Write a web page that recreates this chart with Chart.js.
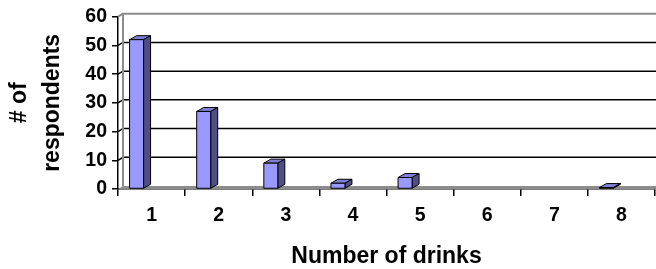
<!DOCTYPE html>
<html>
<head>
<meta charset="utf-8">
<script src="https://cdn.jsdelivr.net/npm/chart.js@4"></script>
<style>
  body { margin: 0; background: #fff; }
  canvas { display: block; }
</style>
</head>
<body>
<canvas id="drinks" width="656" height="269"></canvas>
<script>
// values
const categories = ['1', '2', '3', '4', '5', '6', '7', '8'];
const respondents = [52, 27, 9, 2, 4, 0, 0, 0.5];
const yMax = 60;
const yStep = 10;
const yTitle = ['# of', 'respondents'];
const xTitle = 'Number of drinks';

const FONT = "'Liberation Sans', Arial, sans-serif";
// fake 3d look, excel style
const SHIFT = -15;          // bars sit a bit left of category centre
const DEPTH = [7, -4];      // bar depth
const WALL = [5, -3];       // back wall offset

const bars3d = {
  id: 'bars3d',
  beforeDatasetsDraw(chart) {
    const {ctx, chartArea: a, scales: {y}} = chart;
    const y0 = y.getPixelForValue(0);
    const yTop = y.getPixelForValue(yMax);
    ctx.save();
    // floor
    ctx.fillStyle = '#8c8c8c';
    ctx.beginPath();
    ctx.moveTo(a.left, y0);
    ctx.lineTo(a.right, y0);
    ctx.lineTo(a.right + WALL[0], y0 + WALL[1]);
    ctx.lineTo(a.left + WALL[0], y0 + WALL[1]);
    ctx.closePath();
    ctx.fill();
    // gridlines on back wall
    ctx.lineWidth = 1.5;
    y.ticks.forEach(t => {
      if (t.value === 0 || t.value === yMax) return;
      const py = y.getPixelForValue(t.value);
      ctx.strokeStyle = '#000';
      ctx.beginPath();
      ctx.moveTo(a.left, py);
      ctx.lineTo(a.left + WALL[0], py + WALL[1]);
      ctx.lineTo(a.right + WALL[0], py + WALL[1]);
      ctx.stroke();
    });
    // wall edges
    ctx.strokeStyle = '#8c8c8c';
    ctx.lineWidth = 2;
    ctx.beginPath();
    ctx.moveTo(a.left + WALL[0], y0 + WALL[1]);
    ctx.lineTo(a.left + WALL[0], yTop + WALL[1]);
    ctx.lineTo(a.right + WALL[0], yTop + WALL[1]);
    ctx.moveTo(a.left, yTop);
    ctx.lineTo(a.left + WALL[0], yTop + WALL[1]);
    ctx.stroke();
    ctx.restore();
  },
  afterDatasetsDraw(chart) {
    const {ctx} = chart;
    const meta = chart.getDatasetMeta(0);
    const [dx, dy] = DEPTH;
    ctx.save();
    ctx.lineWidth = 1;
    ctx.strokeStyle = '#000';
    ctx.lineJoin = 'round';
    meta.data.forEach((bar, i) => {
      if (!respondents[i]) return;
      const {x, y, base, width} = bar.getProps(['x', 'y', 'base', 'width'], true);
      const l = x - width / 2 + SHIFT;
      const r = l + width;
      // top
      ctx.fillStyle = '#7f7fd6';
      ctx.beginPath();
      ctx.moveTo(l, y);
      ctx.lineTo(l + dx, y + dy);
      ctx.lineTo(r + dx, y + dy);
      ctx.lineTo(r, y);
      ctx.closePath();
      ctx.fill();
      ctx.stroke();
      // side
      ctx.fillStyle = '#4f4f85';
      ctx.beginPath();
      ctx.moveTo(r, y);
      ctx.lineTo(r + dx, y + dy);
      ctx.lineTo(r + dx, base + dy);
      ctx.lineTo(r, base);
      ctx.closePath();
      ctx.fill();
      ctx.stroke();
      // front
      ctx.fillStyle = '#9999ff';
      ctx.fillRect(l, y, width, base - y);
      ctx.strokeRect(l, y, width, base - y);
    });
    ctx.restore();
  }
};

new Chart(document.getElementById('drinks').getContext('2d'), {
  type: 'bar',
  data: {
    labels: categories,
    datasets: [{
      data: respondents,
      backgroundColor: 'rgba(0,0,0,0)',
      borderWidth: 0,
      barThickness: 14
    }]
  },
  options: {
    responsive: false,
    animation: false,
    layout: { padding: { top: 16, right: 1, left: 0, bottom: 0 } },
    plugins: {
      legend: { display: false },
      tooltip: { enabled: false }
    },
    scales: {
      x: {
        grid: { offset: true, drawOnChartArea: false, drawTicks: true, tickLength: 7, color: '#000', lineWidth: 1.5 },
        border: { display: true, color: '#000', width: 1.5 },
        ticks: { color: '#000', padding: 8, font: { family: FONT, size: 19.5, weight: 'bold' } },
        title: {
          display: true,
          text: xTitle,
          color: '#000',
          padding: { top: 0, bottom: 1 },
          font: { family: FONT, size: 23, weight: 'bold', lineHeight: 1 }
        },
        afterFit(scale) { scale.height = 80; }
      },
      y: {
        min: 0,
        max: yMax,
        grid: { drawOnChartArea: false, drawTicks: true, tickLength: 6, color: '#000', lineWidth: 1.5 },
        border: { display: true, color: '#000', width: 1.5 },
        ticks: { stepSize: yStep, color: '#000', padding: 5, font: { family: FONT, size: 19.5, weight: 'bold' } },
        title: {
          display: true,
          text: yTitle,
          color: '#000',
          padding: { top: 4, bottom: 0 },
          font: { family: FONT, size: 23, weight: 'bold', lineHeight: 1.4 }
        },
        afterFit(scale) { scale.width = 118; }
      }
    }
  },
  plugins: [bars3d]
});
</script>
</body>
</html>
